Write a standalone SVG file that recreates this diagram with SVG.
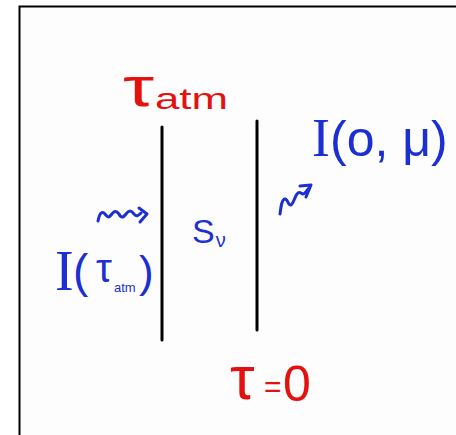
<svg xmlns="http://www.w3.org/2000/svg" width="456" height="435" viewBox="0 0 456 435">
<style>
.red{fill:#e3120f;font-family:"Liberation Sans",Arial,sans-serif}
.blue{fill:#1c2fd2;font-family:"Liberation Sans",Arial,sans-serif}
.serif{font-family:"Liberation Serif","Times New Roman",serif}
.wave{fill:none;stroke:#1c2fd2;stroke-width:3;stroke-linecap:round;stroke-linejoin:round}
.bar{stroke:#000;stroke-width:3;stroke-linecap:round}
</style>
<rect width="456" height="435" fill="#fff"/>
<rect x="19" y="6" width="437" height="429" fill="#fcfdfc"/>
<path d="M19.5,435 V6.5 H456" fill="none" stroke="#000" stroke-width="2"/>
<g id="slab">
<line class="bar" x1="162" y1="127" x2="162" y2="340"/>
<line class="bar" x1="257" y1="121" x2="257" y2="330"/>
</g>
<g id="tau-atm">
<text class="red" x="123" y="106" font-size="56" textLength="31" lengthAdjust="spacingAndGlyphs">τ</text>
<text class="red" x="155" y="109" font-size="30" textLength="73" lengthAdjust="spacingAndGlyphs">atm</text>
</g>
<g id="I-0-mu">
<text class="blue" x="312" y="156" font-size="50"><tspan class="serif" font-size="54">I</tspan>(o, μ)</text>
</g>
<g id="S-nu">
<text class="blue" x="192" y="243" font-size="34">S<tspan font-size="20" dx="1" dy="4">ν</tspan></text>
</g>
<g id="I-tau-atm">
<text class="blue serif" x="55" y="290" font-size="56">I</text>
<text class="blue" x="73" y="287" font-size="46">(</text>
<text class="blue" x="96" y="282" font-size="40">τ</text>
<text class="blue" x="114" y="292" font-size="13">atm</text>
<text class="blue" x="139" y="287" font-size="44">)</text>
</g>
<g id="tau-0">
<text class="red" x="230" y="399" font-size="62">τ</text>
<text class="red" x="264" y="397" font-size="30">=</text>
<text class="red" x="283" y="401" font-size="50">0</text>
</g>
<g id="connectors">
<path class="wave" d="M98,221 C99,215 101,211 104,213 C107,216 108,219 111,215 C114,211 116,210 119,214 C121,218 123,218 126,214 C129,210 131,210 134,214 C136,217 138,216 141,213"/>
<path class="wave" d="M139,208 L147,214 L140,222"/>
<path class="wave" d="M280,214 C281,206 282,199 285,199 C288,199 288,206 291,205 C294,203 295,195 298,193 C301,191 302,196 305,193 L309,188"/>
<path class="wave" d="M300,186 L311,185 L306,197"/>
</g>
</svg>
